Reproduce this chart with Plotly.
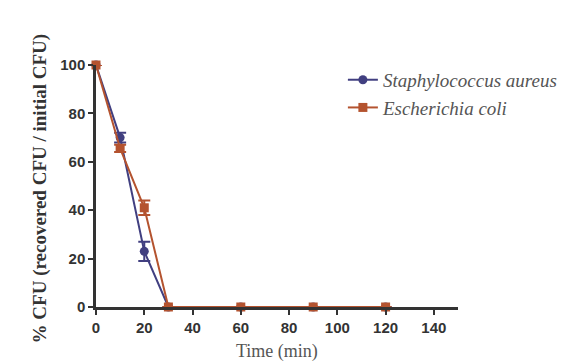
import plotly.graph_objects as go

time_min = [0, 10, 20, 30, 60, 90, 120]
staph_values = [100, 70, 23, 0, 0, 0, 0]
staph_err = [0, 2, 4, 0, 0, 0, 0]
ecoli_values = [100, 65.5, 41, 0, 0, 0, 0]
ecoli_err = [0, 1.5, 3, 0, 0, 0, 0]
x_ticks = [0, 20, 40, 60, 80, 100, 120, 140]
y_ticks = [0, 20, 40, 60, 80, 100]

blue = "#413f80"
red = "#b4532f"

fig = go.Figure()
fig.add_trace(go.Scatter(
    x=time_min, y=staph_values, mode="lines+markers",
    name="Staphylococcus aureus",
    line=dict(color=blue, width=2),
    marker=dict(symbol="circle", size=9, color=blue),
    error_y=dict(type="data", array=staph_err, color=blue, thickness=2, width=6),
    cliponaxis=False,
))
fig.add_trace(go.Scatter(
    x=time_min, y=ecoli_values, mode="lines+markers",
    name="Escherichia coli",
    line=dict(color=red, width=2),
    marker=dict(symbol="square", size=9, color=red),
    error_y=dict(type="data", array=ecoli_err, color=red, thickness=2, width=6),
    cliponaxis=False,
))

serif = "Liberation Serif, Times New Roman, serif"
tickfont = dict(family="Liberation Sans", size=15, color="#333333", weight="bold")
fig.update_layout(
    width=586, height=363,
    margin=dict(l=88, r=136, t=57, b=64),
    paper_bgcolor="white", plot_bgcolor="white",
    showlegend=True,
    legend=dict(x=0.682, y=1.017, xref="paper", yref="paper", xanchor="left", yanchor="top",
                font=dict(family=serif, size=19, color="#555555", style="italic"),
                bgcolor="rgba(0,0,0,0)", itemwidth=30),
    xaxis=dict(range=[0, 150], tickvals=x_ticks, showgrid=False, zeroline=False,
               showline=True, linecolor="#333333", linewidth=2.5,
               ticks="outside", ticklen=5, tickwidth=2, tickcolor="#333333",
               tickfont=tickfont, automargin=False),
    yaxis=dict(range=[0, 100], tickvals=y_ticks, showgrid=False, zeroline=False,
               showline=True, linecolor="#333333", linewidth=2.5,
               ticks="outside", ticklen=5, tickwidth=2, tickcolor="#333333",
               tickfont=tickfont, automargin=False),
    annotations=[
        dict(text="% CFU (recovered CFU / initial CFU)", textangle=-90,
             xref="paper", yref="paper", x=0, y=0.49, xanchor="center", yanchor="middle",
             xshift=-56, showarrow=False,
             font=dict(family=serif, size=19, color="#333333", weight="bold")),
        dict(text="Time (min)", xref="paper", yref="paper", x=0.5, y=0,
             xanchor="center", yanchor="middle", yshift=-44, showarrow=False,
             font=dict(family=serif, size=18, color="#555555")),
    ],
)
fig.write_html("out.html")
